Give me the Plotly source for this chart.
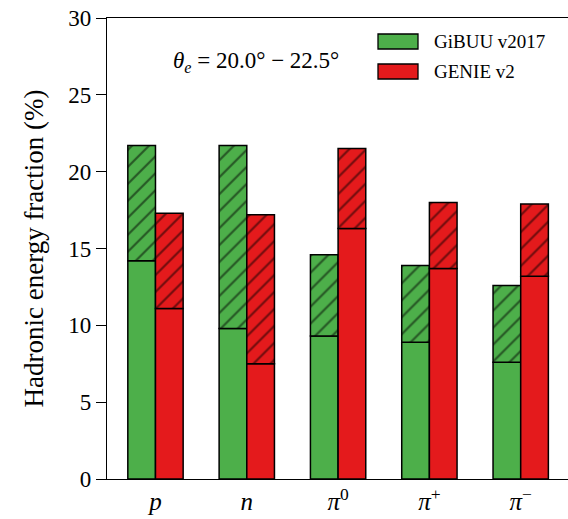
import plotly.graph_objects as go

categories = ["p", "n", "pi0", "pi+", "pi-"]
tick_labels = ["<i>p</i>", "<i>n</i>", "<i>π</i><sup>0</sup>", "<i>π</i><sup>+</sup>", "<i>π</i><sup>−</sup>"]

gibuu_solid = [14.2, 9.8, 9.3, 8.9, 7.6]
gibuu_total = [21.7, 21.7, 14.6, 13.9, 12.6]
genie_solid = [11.1, 7.5, 16.3, 13.7, 13.2]
genie_total = [17.3, 17.2, 21.5, 18.0, 17.9]

GREEN = "#4daf4a"
RED = "#e41a1c"
FONT = "Liberation Serif"
BW = 0.303

fig = go.Figure()
x_idx = list(range(len(categories)))

def add_model(solid, total, color, offset, name):
    fig.add_trace(go.Bar(
        x=x_idx, y=solid, width=BW, offset=offset, name=name,
        marker=dict(color=color, line=dict(color="black", width=1.5)),
        showlegend=False,
    ))
    fig.add_trace(go.Bar(
        x=x_idx, y=[t - s for t, s in zip(total, solid)], base=solid,
        width=BW, offset=offset, name=name + " (hatched)",
        marker=dict(color=color, line=dict(color="black", width=1.5),
                    pattern=dict(shape="/", fgcolor="black", bgcolor=color,
                                 size=12, solidity=0.18, fillmode="overlay")),
        showlegend=False,
    ))

add_model(gibuu_solid, gibuu_total, GREEN, -BW, "GiBUU v2017")
add_model(genie_solid, genie_total, RED, 0, "GENIE v2")

L, R, T, B = 107, 0, 18, 40
W, H = 568, 519
pw, ph = W - L - R, H - T - B

def px(x):
    return (x - L) / pw

def py(y):
    return (H - B - y) / ph

legend_items = [("GiBUU v2017", GREEN, 34, 49), ("GENIE v2", RED, 64, 79)]
shapes = []
annotations = []
for name, col, y0, y1 in legend_items:
    shapes.append(dict(type="rect", xref="paper", yref="paper",
                       x0=px(378), x1=px(418), y0=py(y1), y1=py(y0),
                       fillcolor=col, line=dict(color="black", width=1.3)))
    annotations.append(dict(text=name, xref="paper", yref="paper",
                            x=px(432), y=py((y0 + y1) / 2), xanchor="left", yanchor="middle",
                            showarrow=False, font=dict(family=FONT, size=19, color="black")))

annotations.append(dict(text="<i>θ</i><sub><i>e</i></sub> = 20.0° − 22.5°", xref="paper", yref="paper",
                        x=px(256), y=py(62), xanchor="center", yanchor="middle",
                        showarrow=False, font=dict(family=FONT, size=23, color="black")))

fig.update_layout(
    width=W, height=H,
    margin=dict(l=L, r=R, t=T, b=B),
    paper_bgcolor="white", plot_bgcolor="white",
    barmode="overlay",
    shapes=shapes, annotations=annotations,
    font=dict(family=FONT, color="black"),
)
fig.update_xaxes(
    range=[-0.531, 4.518], tickmode="array", tickvals=x_idx, ticktext=tick_labels,
    showgrid=False, zeroline=False, showline=True, linecolor="black", linewidth=1.3,
    mirror=True, ticks="", tickfont=dict(family=FONT, size=25, color="black"),
)
fig.update_yaxes(
    range=[0, 30], tickmode="array", tickvals=[0, 5, 10, 15, 20, 25, 30],
    showgrid=False, zeroline=False, showline=True, linecolor="black", linewidth=1.3,
    ticks="outside", ticklen=10, tickwidth=1.3, tickcolor="black",
    tickfont=dict(family=FONT, size=23, color="black"),
    title=dict(text="Hadronic energy fraction (%)", font=dict(family=FONT, size=27, color="black"), standoff=16),
)

fig.write_html("out.html", config={"displayModeBar": False},
               post_script="document.body.style.margin='0';document.body.style.overflow='hidden';")
